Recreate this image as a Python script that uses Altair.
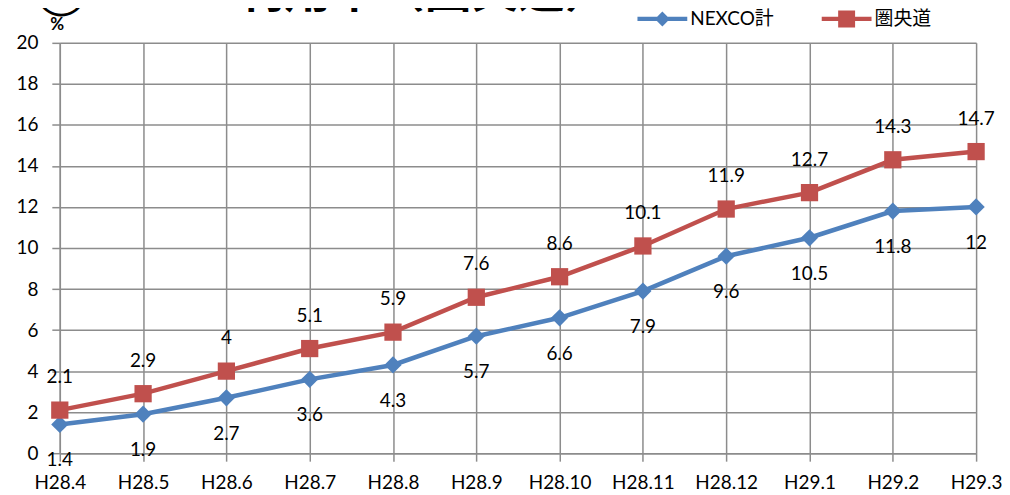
import altair as alt
import pandas as pd

months = ["H28.4", "H28.5", "H28.6", "H28.7", "H28.8", "H28.9", "H28.10",
          "H28.11", "H28.12", "H29.1", "H29.2", "H29.3"]
nexco = [1.4, 1.9, 2.7, 3.6, 4.3, 5.7, 6.6, 7.9, 9.6, 10.5, 11.8, 12]
kenodo = [2.1, 2.9, 4, 5.1, 5.9, 7.6, 8.6, 10.1, 11.9, 12.7, 14.3, 14.7]
series_names = ["NEXCO計", "圏央道"]
colors = ["#4F81BD", "#C0504D"]
title_text = "②ETC2.0利用率（圏央道）"

rows = []
for s, vals in zip(series_names, [nexco, kenodo]):
    for m, v in zip(months, vals):
        rows.append({"month": m, "series": s, "value": v, "label": f"{v:g}"})
df = pd.DataFrame(rows)

FONT = "Lato, Noto Sans CJK JP, sans-serif"
GRID = "#8c8c8c"

x_enc = alt.X("month:N", sort=months,
              scale=alt.Scale(type="point", padding=0),
              axis=alt.Axis(title=None, labelAngle=0, labelFontSize=19, labelFont=FONT,
                            labelColor="#000", tickSize=8, tickColor=GRID, tickWidth=1.5,
                            domainColor=GRID, domainWidth=1.5, grid=True, gridColor=GRID,
                            gridWidth=1.5, labelPadding=12))
y_enc = alt.Y("value:Q", scale=alt.Scale(domain=[0, 20], nice=False, zero=True),
              axis=alt.Axis(values=list(range(0, 21, 2)), title="%", titleAngle=0,
                            titleAlign="left", titleBaseline="middle", titleX=-10, titleY=-18,
                            titleFont=FONT, titleFontSize=17, titleFontWeight="bold",
                            titleColor="#000",
                            labelFontSize=19, labelFont=FONT, labelColor="#000",
                            tickSize=8, tickColor=GRID, tickWidth=1.5,
                            domainColor=GRID, domainWidth=1.5, grid=True, gridColor=GRID,
                            gridWidth=1.5, labelPadding=14))
color_scale = alt.Scale(domain=series_names, range=colors)

legend_paths = [
    "M-1,-0.085L1,-0.085L1,0.085L-1,0.085Z M0,-0.3L0.3,0L0,0.3L-0.3,0Z",
    "M-1,-0.085L1,-0.085L1,0.085L-1,0.085Z M-0.34,-0.34L0.34,-0.34L0.34,0.34L-0.34,0.34Z",
]
legend_x = [580, 765]

base = alt.Chart(df)

lines = base.mark_line(strokeWidth=4.5).encode(
    x=x_enc, y=y_enc,
    color=alt.Color("series:N", scale=color_scale, legend=None),
    detail="series:N",
)

points = base.mark_point(filled=True, opacity=1, size=300).encode(
    x=x_enc, y=y_enc,
    color=alt.Color("series:N", scale=color_scale, legend=None),
    shape=alt.Shape("series:N", scale=alt.Scale(domain=series_names, range=["diamond", "square"]),
                    legend=None),
)

legend_layers = []
for name, col, path, lx in zip(series_names, colors, legend_paths, legend_x):
    legend_layers.append(
        base.transform_filter("false").mark_point(filled=True, opacity=1).encode(
            x=x_enc, y=y_enc,
            color=alt.Color("series:N", scale=color_scale, legend=None),
            shape=alt.Shape("series:N", scale=alt.Scale(domain=[name], range=[path]),
                            legend=alt.Legend(
                                title=None, orient="none", legendX=lx, legendY=-49,
                                direction="horizontal", symbolSize=2500,
                                symbolStrokeWidth=0, symbolOpacity=1,
                                symbolFillColor=col, symbolStrokeColor=col,
                                labelFontSize=19, labelFont=FONT, labelColor="#000",
                                labelOffset=3, padding=0)),
        )
    )

lab_nexco = base.transform_filter(alt.datum.series == series_names[0]).mark_text(
    dy=36, fontSize=19, font=FONT, color="#000").encode(x=x_enc, y=y_enc, text="label:N")
lab_ken = base.transform_filter(alt.datum.series == series_names[1]).mark_text(
    dy=-33, fontSize=19, font=FONT, color="#000").encode(x=x_enc, y=y_enc, text="label:N")

title = alt.Chart(pd.DataFrame({"t": [title_text]})).mark_text(
    align="left", baseline="alphabetic", fontSize=47, fontWeight="bold", font=FONT,
    color="#000").encode(text="t:N", x=alt.value(-25), y=alt.value(-36))

chart = alt.layer(lines, points, *legend_layers, lab_nexco, lab_ken, title).resolve_scale(
    shape="independent"
).properties(
    width=920, height=412,
    padding={"left": 52, "top": 34, "right": 26, "bottom": 42},
    autosize=alt.AutoSizeParams(type="none"),
).configure_view(stroke=None)

chart.save("out.html", embed_options={"renderer": "svg", "actions": False})
